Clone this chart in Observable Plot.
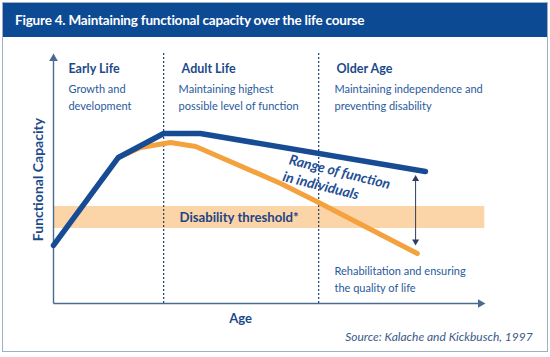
<!DOCTYPE html>
<html><head><meta charset="utf-8">
<script src="https://cdn.jsdelivr.net/npm/d3@7"></script>
<script src="https://cdn.jsdelivr.net/npm/@observablehq/plot@0.6"></script>
<style>
body{margin:0;background:#fff;}
#frame{position:absolute;left:2px;top:2px;width:546px;height:350px;box-sizing:border-box;border:1px solid #9fb0c2;background:#fff;}
#title{height:34px;line-height:35px;background:#0d4a94;color:#fff;font-family:Lato,sans-serif;font-weight:bold;font-size:13.5px;padding-left:12px;letter-spacing:-0.2px;}
#chart{position:absolute;left:0;top:34px;}
</style>
</head><body>
<div id="frame"><div id="title">Figure 4. Maintaining functional capacity over the life course</div><div id="chart"></div></div>
<script>
// Capacity curves (age in relative units 0-100, capacity 0-100)
const blueAge = [0, 15.2, 25.8, 34.4, 87.1];
const blueCap = [23.7, 59.6, 69.4, 69.4, 53.9];
const orangeAge = [15.2, 20.4, 27.4, 33.3, 53.2, 62.1, 85.2];
const orangeCap = [59.6, 63.7, 65.7, 64.1, 49.0, 41.2, 20.4];
// Disability threshold band
const thresholdLow = 30.6, thresholdHigh = 39.6, thresholdEnd = 101;
// Life stage boundaries
const stageBounds = [25.8, 62.1];
const stageTop = 102;
// Range arrow
const rangeArrowAge = 84.8, rangeArrowTop = 50.8, rangeArrowBottom = 25.3;

// Text annotations
const headers = [
  {t: "Early Life", x: 3.5, y: 95.9},
  {t: "Adult Life", x: 30.0, y: 95.9},
  {t: "Older Age", x: 66.3, y: 95.9}
];
const notes = [
  {t: "Growth and", x: 3.5, y: 87.3},
  {t: "development", x: 3.5, y: 80.4},
  {t: "Maintaining highest", x: 29.3, y: 87.3},
  {t: "possible level of function", x: 29.3, y: 80.4},
  {t: "Maintaining independence and", x: 65.8, y: 87.3},
  {t: "preventing disability", x: 65.8, y: 80.4},
  {t: "Rehabilitation and ensuring", x: 65.8, y: 13.1},
  {t: "the quality of life", x: 65.8, y: 6.1}
];
const rangeLabel = [
  {t: "Range of function", x: 67.0, y: 53.6},
  {t: "in individuals", x: 62.6, y: 48.0}
];
const thresholdLabel = [{t: "Disability threshold*", x: 29.5, y: 34.9}];
const xTitle = [{t: "Age", x: 43.8, y: -6.1}];
const yTitle = [{t: "Functional Capacity", x: -3.6, y: 50.6}];
const source = [{t: "Source: Kalache and Kickbusch, 1997", x: 112.2, y: -13.6}];

const blue = blueAge.map((a, i) => ({age: a, cap: blueCap[i]}));
const orange = orangeAge.map((a, i) => ({age: a, cap: orangeCap[i]}));

const txt = "#2a5a9c", dark = "#1b4a8a", axisC = "#4a6a92";
const F = "Lato, sans-serif";

const chart = Plot.plot({
  width: 544, height: 314,
  marginLeft: 50, marginRight: 67, marginTop: 21, marginBottom: 48,
  x: {domain: [0, 100], axis: null},
  y: {domain: [0, 100], axis: null},
  style: {overflow: "visible", background: "white"},
  marks: [
    Plot.rect([0], {x1: 0, x2: thresholdEnd, y1: thresholdLow, y2: thresholdHigh, fill: "#fbd4a8"}),
    Plot.ruleX(stageBounds, {y1: 0, y2: stageTop, stroke: "#1d3c6e", strokeWidth: 1.2, strokeDasharray: "2,2"}),
    Plot.link([0], {x1: 0, y1: 0, x2: 100, y2: 0, stroke: axisC, strokeWidth: 1.4}),
    Plot.link([0], {x1: 0, y1: 0, x2: 0, y2: 100, stroke: axisC, strokeWidth: 1.4}),
    Plot.dot([0], {x: 100, y: 0, symbol: "triangle", r: 3.2, fill: axisC, rotate: 90}),
    Plot.dot([0], {x: 0, y: 100, symbol: "triangle", r: 3.2, fill: axisC}),
    Plot.line(orange, {x: "age", y: "cap", stroke: "#f3a23e", strokeWidth: 5, strokeLinejoin: "round"}),
    Plot.line(blue, {x: "age", y: "cap", stroke: "#174b94", strokeWidth: 5.5, strokeLinejoin: "round"}),
    Plot.link([0], {x1: rangeArrowAge, x2: rangeArrowAge, y1: rangeArrowBottom, y2: rangeArrowTop, stroke: "#2c3e5c", strokeWidth: 1}),
    Plot.dot([0], {x: rangeArrowAge, y: rangeArrowTop, symbol: "triangle", r: 2.6, fill: "#2c3e5c"}),
    Plot.dot([0], {x: rangeArrowAge, y: rangeArrowBottom, symbol: "triangle", r: 2.6, fill: "#2c3e5c", rotate: 180}),
    Plot.text(headers, {x: "x", y: "y", text: "t", textAnchor: "start", fill: dark, fontSize: 12.5, fontWeight: "bold", fontFamily: F}),
    Plot.text(notes, {x: "x", y: "y", text: "t", textAnchor: "start", fill: txt, fontSize: 11, fontFamily: F}),
    Plot.text(rangeLabel, {x: "x", y: "y", text: "t", rotate: 14, fill: "#1f4f94", fontSize: 14, fontWeight: "bold", fontStyle: "italic", fontFamily: F}),
    Plot.text(thresholdLabel, {x: "x", y: "y", text: "t", textAnchor: "start", fill: "#1f4584", fontSize: 13.2, fontWeight: "bold", fontFamily: F}),
    Plot.text(xTitle, {x: "x", y: "y", text: "t", fill: dark, fontSize: 13, fontWeight: "bold", fontFamily: F}),
    Plot.text(yTitle, {x: "x", y: "y", text: "t", rotate: -90, fill: dark, fontSize: 14, fontWeight: "bold", fontFamily: F}),
    Plot.text(source, {x: "x", y: "y", text: "t", textAnchor: "end", fill: "#3a5a8a", fontSize: 12, fontStyle: "italic", fontFamily: F})
  ]
});
document.getElementById("chart").appendChild(chart);
</script>
</body></html>
